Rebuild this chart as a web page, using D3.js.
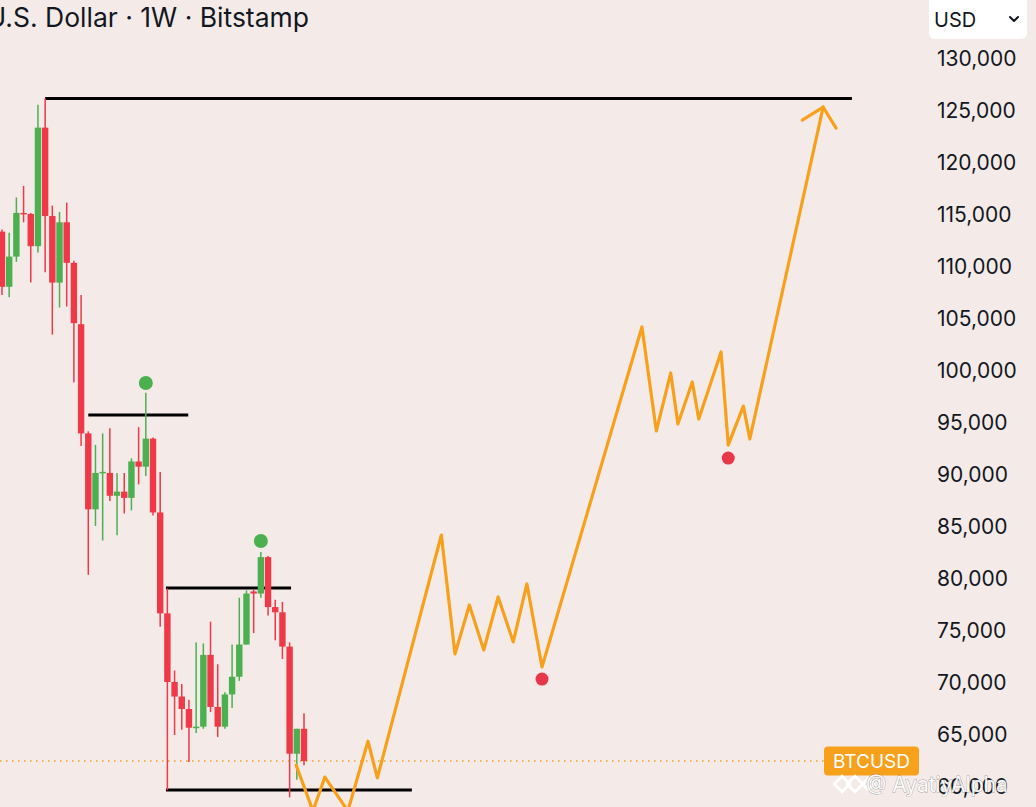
<!DOCTYPE html>
<html><head><meta charset="utf-8">
<script src="https://cdn.jsdelivr.net/npm/d3@7/dist/d3.min.js"></script>
<style>html,body{margin:0;padding:0;background:#f4ebe8;overflow:hidden}svg{display:block}</style>
</head><body><svg id="c" width="1036" height="807"></svg>
<script>
// Weekly BTC candles (index 0 = leftmost visible week)
const opens  = [113400,108100,111000,115200,115100,112000,123400,114900,108500,114300,110400,104500,94000,86700,90200,90200,88000,88400,87800,91300,90800,93500,86400,76700,70100,68700,67500,65700,65800,72700,67700,65800,68900,70600,73700,78800,78600,82100,77300,76800,73500,63200,65600];
const highs  = [113600,113300,116700,117800,115200,125600,126200,115900,115300,116200,110600,107300,94200,92900,94000,94500,90200,90200,91600,94600,97900,93600,90300,79100,71200,69900,68400,73900,73800,75900,71800,69100,73700,78200,78900,79000,82600,82200,78000,77800,73900,65600,67100];
const lows   = [107300,107100,110500,114300,108500,111400,109500,103500,106100,106200,98900,92800,80400,85100,83700,87500,84200,86300,86600,89100,89900,86100,75400,59700,65000,65500,62400,65200,65600,67200,64800,65600,67600,70200,73700,74800,78200,76500,74100,72300,59000,60700,62100];
const closes = [108100,111000,115200,115100,112000,123400,114900,108500,114300,110400,104600,94000,86700,90200,90300,88000,88400,87800,91300,90800,93500,86400,76700,70100,68700,67500,65700,65800,72700,67700,65800,68900,70600,73700,78600,78600,82100,77300,76800,73500,63200,65600,62500];

// Projected path (week index, price)
const projWeeks  = [40.9,43.25,44.9,48.1,50.9,52.2,61.1,63.0,65.0,67.0,69.0,71.1,73.0,75.1,89.0,91.0,93.0,94.0,96.0,96.9,100.0,101.0,103.1,104.0,114.2];
const projPrices = [62100,57700,60950,57700,64400,60870,84230,72790,77500,73170,78270,73950,79520,71540,104230,94230,99810,94900,98950,95380,101830,92880,96630,93460,125380];
const arrowWeeks  = [111.3,114.2,116.0];
const arrowPrices = [124130,125380,123360];

// Horizontal levels
const levelPrices = [126200,95770,79130,59700];
const levelFrom   = [6,12,22.8,22.8];
const levelTo     = [118.2,25.9,40.2,57.0];

// Markers
const topDotWeeks = [20,36], topDotPrices = [98850,83650];
const lowDotWeeks = [75.1,101.0], lowDotPrices = [70380,91630];

const yTicks = d3.range(60000,130001,5000);
const title = "U.S. Dollar · 1W · Bitstamp";
const symbol = "BTCUSD";
const currency = "USD";
const watermark = "@ AyatiyAlpha";

const C = {bg:"#f4ebe8", up:"#4caf50", down:"#ef3848", orange:"#f7a01c", text:"#131722", red:"#e8374a"};
const FONT = "Inter, 'Noto Sans', sans-serif";

const svg = d3.select("#c");
svg.append("rect").attr("width",1036).attr("height",807).attr("fill",C.bg);

const x = d3.scaleLinear().domain([0,42]).range([2,304]);
const y = d3.scaleLinear().domain([60000,130000]).range([787,59]);

svg.append("clipPath").attr("id","plot").append("rect").attr("x",0).attr("y",42).attr("width",925).attr("height",765);
const g = svg.append("g").attr("clip-path","url(#plot)");

// current price dotted line
const last = closes[closes.length-1];
g.append("line").attr("x1",0).attr("x2",824).attr("y1",y(last)).attr("y2",y(last))
 .attr("stroke",C.orange).attr("stroke-width",1.4).attr("stroke-dasharray","1.5,4.5");

// levels
g.selectAll("line.level").data(levelPrices).join("line").attr("class","level")
 .attr("x1",(d,i)=>x(levelFrom[i])).attr("x2",(d,i)=>x(levelTo[i]))
 .attr("y1",d=>y(d)).attr("y2",d=>y(d)).attr("stroke","#000").attr("stroke-width",3);

// candles
const idx = d3.range(opens.length);
const cg = g.append("g");
const col = i => closes[i]>=opens[i]?C.up:C.down;
cg.selectAll("line.wick").data(idx).join("line").attr("class","wick")
 .attr("x1",i=>x(i)).attr("x2",i=>x(i)).attr("y1",i=>y(highs[i])).attr("y2",i=>y(lows[i]))
 .attr("stroke",col).attr("stroke-width",1.5);
cg.selectAll("rect.body").data(idx).join("rect").attr("class","body")
 .attr("x",i=>x(i)-3.2).attr("width",6.4)
 .attr("y",i=>y(Math.max(opens[i],closes[i])))
 .attr("height",i=>Math.max(1.5,Math.abs(y(opens[i])-y(closes[i]))))
 .attr("fill",col);

// projection
const line = d3.line().x(d=>x(d[0])).y(d=>y(d[1]));
g.append("path").attr("d",line(projWeeks.map((w,i)=>[w,projPrices[i]])))
 .attr("fill","none").attr("stroke",C.orange).attr("stroke-width",3.2).attr("stroke-linejoin","round").attr("stroke-linecap","round");
g.append("path").attr("d",line(arrowWeeks.map((w,i)=>[w,arrowPrices[i]])))
 .attr("fill","none").attr("stroke",C.orange).attr("stroke-width",3.2).attr("stroke-linejoin","round").attr("stroke-linecap","round");

// dots
g.selectAll("circle.top").data(topDotWeeks).join("circle").attr("class","top")
 .attr("cx",d=>x(d)).attr("cy",(d,i)=>y(topDotPrices[i])).attr("r",7).attr("fill",C.up);
g.selectAll("circle.low").data(lowDotWeeks).join("circle").attr("class","low")
 .attr("cx",d=>x(d)).attr("cy",(d,i)=>y(lowDotPrices[i])).attr("r",6.5).attr("fill",C.red);

// y axis
const ax = svg.append("g").attr("transform","translate(937,0)")
 .call(d3.axisRight(y).tickValues(yTicks).tickSize(0).tickPadding(0).tickFormat(d3.format(",")));
ax.select(".domain").remove();
ax.selectAll("text").attr("fill",C.text).style("font-family",FONT).style("font-size","21px").attr("text-anchor","start");

// BTCUSD label
const lb = svg.append("g").attr("transform",`translate(824,${y(last)})`);
lb.append("rect").attr("x",0).attr("y",-14.5).attr("width",95).attr("height",29).attr("rx",4).attr("fill",C.orange);
lb.append("text").attr("x",47.5).attr("y",0).attr("dy","0.36em").attr("text-anchor","middle")
 .attr("fill","#fff").style("font-family",FONT).style("font-size","19px").text(symbol);

// watermark
const wm = svg.append("g");
[[842,784,5.5],[855,784,5.5],[868,784,4]].forEach(([cx,cy,s])=>{
  wm.append("rect").attr("x",cx-s).attr("y",cy-s).attr("width",2*s).attr("height",2*s)
   .attr("transform",`rotate(45,${cx},${cy})`).attr("fill","none").attr("stroke","#fff").attr("stroke-width",2.8);
});
wm.append("text").attr("x",866).attr("y",792).attr("fill","#fff").attr("fill-opacity",0.92)
 .attr("stroke","rgba(100,100,100,0.55)").attr("stroke-width",0.9).attr("paint-order","stroke")
 .style("font-family",FONT).style("font-size","21px").text(watermark);

// title
svg.append("text").attr("x",309).attr("y",27).attr("text-anchor","end").attr("fill",C.text)
 .style("font-family",FONT).style("font-size","26.5px").text(title);

// currency box
svg.append("rect").attr("x",929).attr("y",-6).attr("width",98).attr("height",45).attr("rx",6).attr("fill","#fff");
svg.append("text").attr("x",934).attr("y",27).attr("fill",C.text).style("font-family",FONT).style("font-size","20px").text(currency);
svg.append("path").attr("d","M1010,17 L1014,21 L1018,17").attr("fill","none").attr("stroke",C.text).attr("stroke-width",2).attr("stroke-linecap","round").attr("stroke-linejoin","round");
</script></body></html>
